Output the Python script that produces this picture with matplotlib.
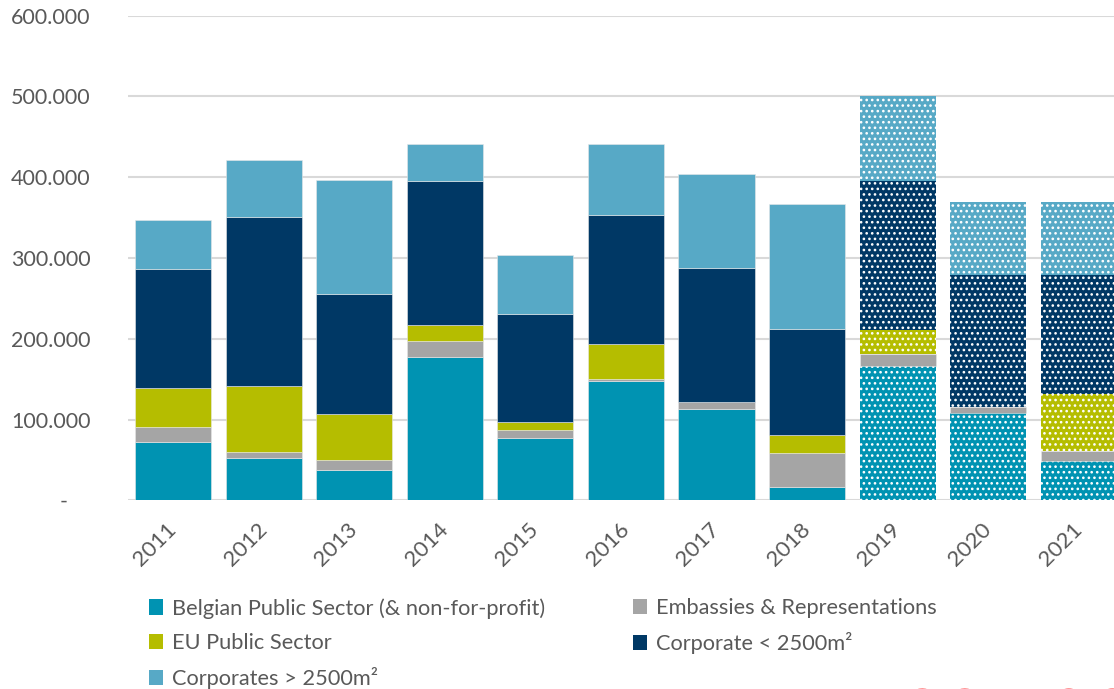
import matplotlib.pyplot as plt
from matplotlib.patches import Patch
from matplotlib.ticker import FuncFormatter
import numpy as np

years = ['2011', '2012', '2013', '2014', '2015', '2016', '2017', '2018', '2019', '2020', '2021']
belgian = [72500, 52700, 37900, 177300, 77500, 148000, 113000, 16800, 166600, 108400, 48600]
embassies = [18500, 6700, 12300, 19500, 9500, 1800, 9000, 41400, 14400, 7100, 12400]
eu_public = [47500, 82400, 56600, 20000, 10000, 43200, 0, 22200, 29800, 0, 70600]
corp_small = [148000, 209200, 148500, 178000, 133600, 160000, 165500, 131600, 184700, 163300, 147200]
corp_large = [60500, 70000, 140700, 46000, 73000, 88000, 116500, 155000, 105200, 90000, 90000]
forecast = [False] * 8 + [True] * 3

labels = ['Belgian Public Sector (& non-for-profit)', 'Embassies & Representations',
          'EU Public Sector', 'Corporate < 2500m²', 'Corporates > 2500m²']
colors = ['#0093B2', '#A5A5A5', '#B5BD00', '#003865', '#57A9C6']
dotted = [True, False, True, True, True]
series = [belgian, embassies, eu_public, corp_small, corp_large]

plt.rcParams['font.family'] = ['Lato', 'DejaVu Sans']
plt.rcParams['hatch.linewidth'] = 1.1

fig = plt.figure(figsize=(11.14, 6.89), dpi=100)
ax = fig.add_axes([128 / 1114, 1 - 500.3 / 689, 986 / 1114, 484.6 / 689])

x = np.arange(len(years))
bottom = np.zeros(len(years))
for vals, col, lab, dot in zip(series, colors, labels, dotted):
    vals = np.array(vals, dtype=float)
    for i in range(len(years)):
        if vals[i] == 0:
            continue
        if forecast[i] and dot:
            ax.bar(x[i], vals[i], 0.84, bottom=bottom[i], color=col,
                   edgecolor='white', linewidth=0, hatch='...', zorder=2)
        else:
            ax.bar(x[i], vals[i], 0.84, bottom=bottom[i], color=col,
                   edgecolor='#E8E8E8', linewidth=0.4, zorder=2)
    bottom += vals

ax.set_xlim(-0.5, 10.39)
ax.set_ylim(0, 600000)
ax.set_yticks(np.arange(0, 600001, 100000))
ax.yaxis.set_major_formatter(FuncFormatter(
    lambda v, p: '-    ' if v == 0 else f'{int(v):,}'.replace(',', '.')))
ax.grid(axis='y', color='#D9D9D9', linewidth=1.5, zorder=0)
ax.set_axisbelow(True)
for s in ax.spines.values():
    s.set_visible(False)
ax.tick_params(axis='y', length=0, pad=27, labelsize=15.5, labelcolor='#595959')
ax.tick_params(axis='x', length=0, pad=19, labelsize=16, labelcolor='#595959')
ax.set_xticks(x)
ax.set_xticklabels(years, rotation=45, ha='right', va='center', rotation_mode='anchor')

handles = [Patch(facecolor=c, edgecolor='none') for c in colors]
leg_kw = dict(frameon=False, fontsize=15.7, labelcolor='#595959', handlelength=0.62,
              handleheight=0.7, handletextpad=0.45, labelspacing=0.66,
              borderpad=0, borderaxespad=0, loc='upper left')
fig.legend([handles[0], handles[2], handles[4]], [labels[0], labels[2], labels[4]],
           bbox_to_anchor=(149 / 1114, 1 - 598 / 689), **leg_kw)
fig.legend([handles[1], handles[3]], [labels[1], labels[3]],
           bbox_to_anchor=(633 / 1114, 1 - 598 / 689), **leg_kw)

fig.text(900 / 1114, -55 / 689, '337.000', color='#FF2B2B', fontsize=54, va='baseline')

fig.savefig('out.png', dpi=100)
